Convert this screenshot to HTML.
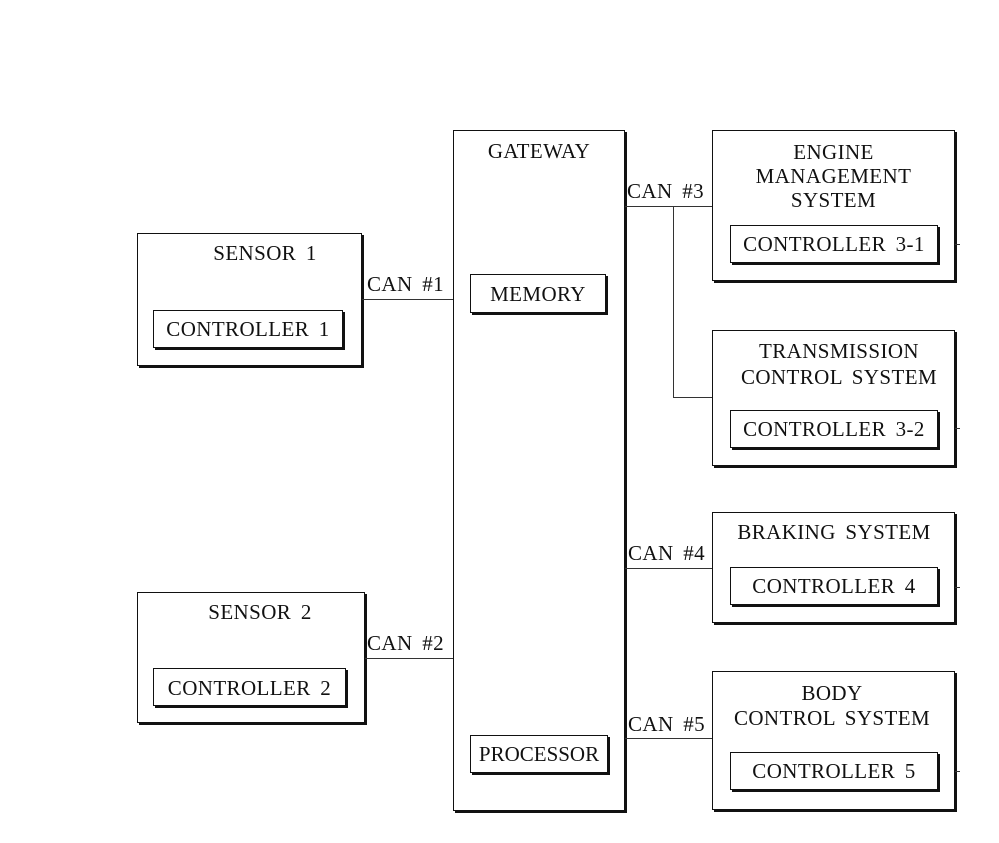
<!DOCTYPE html>
<html><head><style>
body{margin:0;width:999px;height:843px;background:#fff;position:relative;overflow:hidden;font-family:"Liberation Serif",serif;color:#111}
.b{position:absolute;border:1.5px solid #111;box-shadow:2px 2px 0 #111;box-sizing:border-box;background:#fff}
.t{position:absolute;font-size:21px;letter-spacing:0.4px;word-spacing:4px;white-space:nowrap;line-height:23px;text-align:center}
.h{position:absolute;height:0;border-top:1.5px solid #333}
.v{position:absolute;width:0;border-left:1.5px solid #333}
</style></head><body>
<div class="b" style="left:453px;top:130px;width:172px;height:681px"></div>
<div class="t" style="left:453px;top:140px;width:172px">GATEWAY</div>
<div class="b" style="left:470px;top:274px;width:136px;height:39px"></div>
<div class="t" style="left:470px;top:283px;width:136px">MEMORY</div>
<div class="b" style="left:470px;top:735px;width:138px;height:38px"></div>
<div class="t" style="left:470px;top:743px;width:138px;letter-spacing:0">PROCESSOR</div>

<div class="b" style="left:137px;top:233px;width:225px;height:133px"></div>
<div class="t" style="left:185px;top:242px;width:160px">SENSOR 1</div>
<div class="b" style="left:153px;top:310px;width:190px;height:38px"></div>
<div class="t" style="left:153px;top:318px;width:190px">CONTROLLER 1</div>

<div class="b" style="left:137px;top:592px;width:228px;height:131px"></div>
<div class="t" style="left:180px;top:601px;width:160px">SENSOR 2</div>
<div class="b" style="left:153px;top:668px;width:193px;height:38px"></div>
<div class="t" style="left:153px;top:677px;width:193px">CONTROLLER 2</div>

<div class="h" style="left:362px;top:299px;width:91px"></div>
<div class="t" style="left:367px;top:273px">CAN #1</div>
<div class="h" style="left:365px;top:658px;width:88px"></div>
<div class="t" style="left:367px;top:632px">CAN #2</div>

<div class="h" style="left:625px;top:206px;width:87px"></div>
<div class="v" style="left:673px;top:206px;height:191px"></div>
<div class="h" style="left:673px;top:397px;width:39px"></div>
<div class="t" style="left:627px;top:180px">CAN #3</div>
<div class="h" style="left:625px;top:568px;width:87px"></div>
<div class="t" style="left:628px;top:542px">CAN #4</div>
<div class="h" style="left:625px;top:738px;width:87px"></div>
<div class="t" style="left:628px;top:713px">CAN #5</div>

<div class="b" style="left:712px;top:130px;width:243px;height:151px"></div>
<div class="t" style="left:712px;top:140px;width:243px;line-height:24px">ENGINE<br>MANAGEMENT<br>SYSTEM</div>
<div class="b" style="left:730px;top:225px;width:208px;height:38px"></div>
<div class="t" style="left:730px;top:233px;width:208px">CONTROLLER 3-1</div>

<div class="b" style="left:712px;top:330px;width:243px;height:136px"></div>
<div class="t" style="left:728px;top:338px;width:222px;line-height:26px">TRANSMISSION<br>CONTROL SYSTEM</div>
<div class="b" style="left:730px;top:410px;width:208px;height:38px"></div>
<div class="t" style="left:730px;top:418px;width:208px">CONTROLLER 3-2</div>

<div class="b" style="left:712px;top:512px;width:243px;height:111px"></div>
<div class="t" style="left:718px;top:521px;width:232px">BRAKING SYSTEM</div>
<div class="b" style="left:730px;top:567px;width:208px;height:38px"></div>
<div class="t" style="left:730px;top:575px;width:208px">CONTROLLER 4</div>

<div class="b" style="left:712px;top:671px;width:243px;height:139px"></div>
<div class="t" style="left:716px;top:681px;width:232px;line-height:25px">BODY<br>CONTROL SYSTEM</div>
<div class="b" style="left:730px;top:752px;width:208px;height:38px"></div>
<div class="t" style="left:730px;top:760px;width:208px">CONTROLLER 5</div>

<div class="h" style="left:955px;top:244px;width:5px"></div>
<div class="h" style="left:955px;top:428px;width:5px"></div>
<div class="h" style="left:955px;top:587px;width:5px"></div>
<div class="h" style="left:955px;top:771px;width:5px"></div>
</body></html>
